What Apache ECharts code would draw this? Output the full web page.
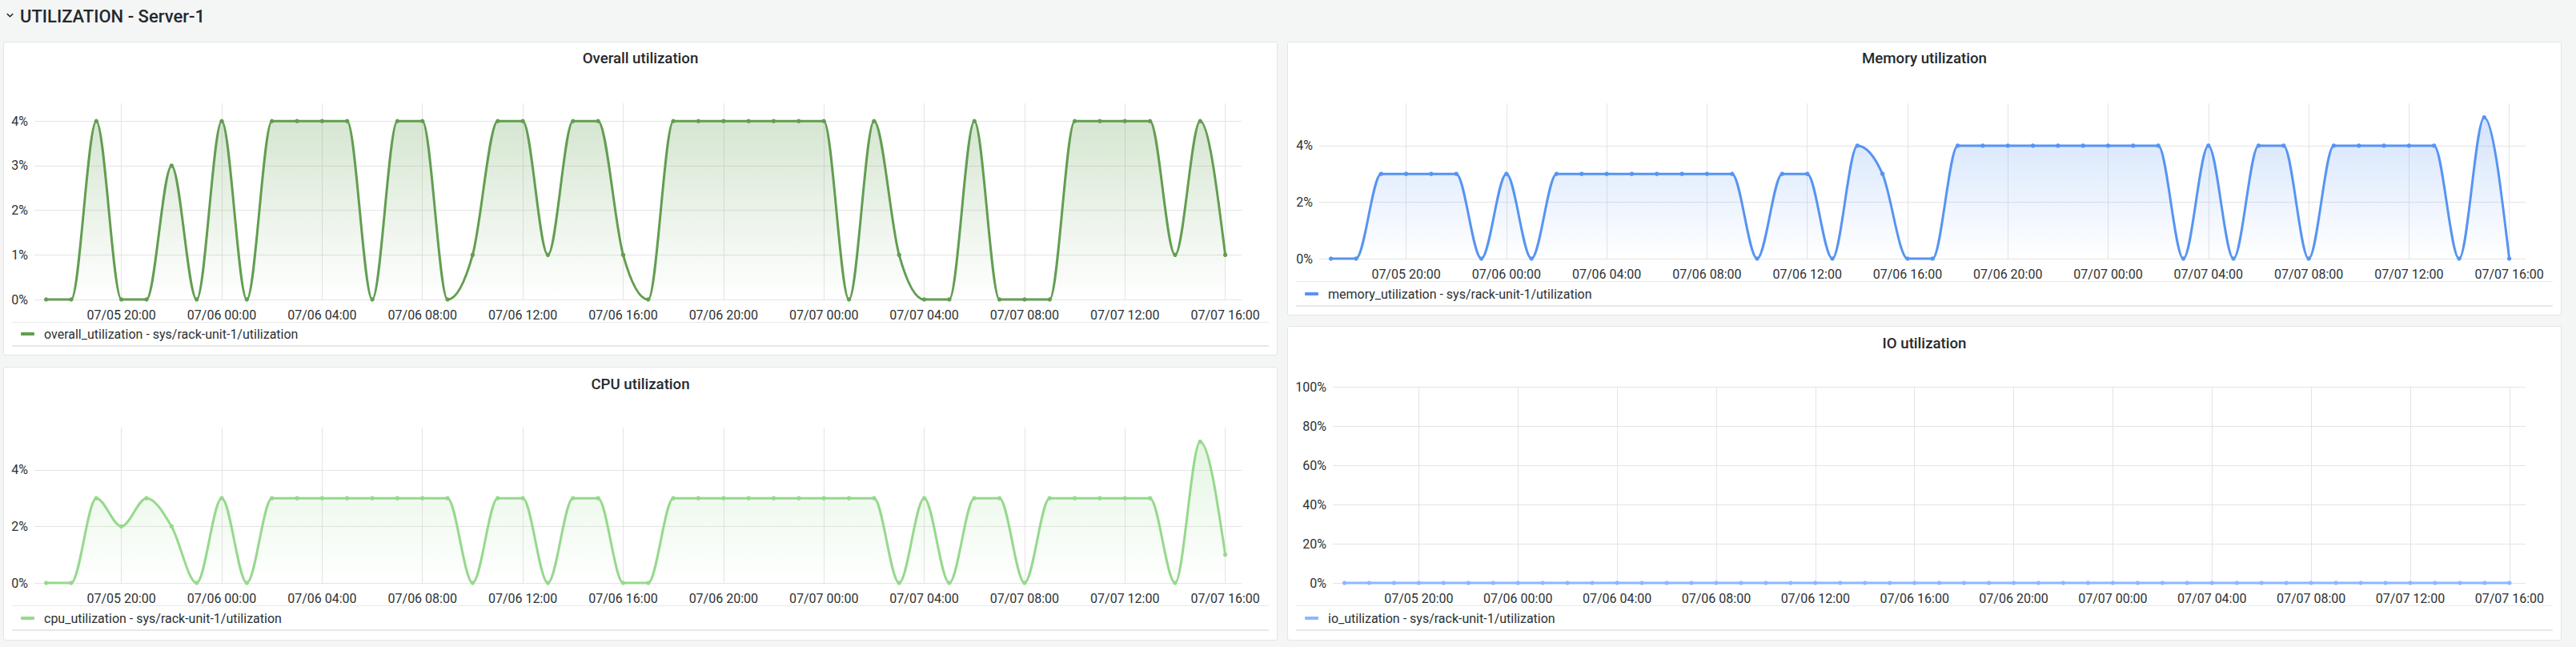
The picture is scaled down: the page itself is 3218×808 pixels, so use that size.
<!DOCTYPE html>
<html>
<head>
<meta charset="utf-8">
<script src="https://cdn.jsdelivr.net/npm/echarts@6/dist/echarts.min.js"></script>
<style>
html,body{margin:0;padding:0;background:#f4f5f5;width:3218px;height:808px;overflow:hidden;font-family:Roboto,Arial,sans-serif;}
.hdr{position:absolute;left:25px;top:7px;font-size:22px;font-weight:500;color:#24292e;line-height:28px;white-space:nowrap;}
.chev{position:absolute;left:8px;top:16px;}
.panel{position:absolute;background:#fff;border:1px solid #e3e5e6;border-radius:3px;box-sizing:border-box;}
.sep{position:absolute;background:#e6e8e8;}
#chart{position:absolute;left:0;top:0;width:3218px;height:808px;}
</style>
</head>
<body>
<svg class="chev" width="9" height="7" viewBox="0 0 9 7"><path d="M1.2 1.5 L4.5 4.8 L7.8 1.5" fill="none" stroke="#24292e" stroke-width="1.6" stroke-linecap="round" stroke-linejoin="round"/></svg>
<div class="hdr">UTILIZATION - Server-1</div>

<div class="panel" style="left:4px;top:52px;width:1592px;height:392px;"></div>
<div class="panel" style="left:1608px;top:52px;width:1592px;height:342px;"></div>
<div class="panel" style="left:4px;top:458px;width:1592px;height:342px;"></div>
<div class="panel" style="left:1608px;top:407px;width:1592px;height:393px;"></div>

<div class="sep" style="left:15px;top:402px;width:1570px;height:1px;"></div>
<div class="sep" style="left:15px;top:431px;width:1570px;height:2px;"></div>
<div class="sep" style="left:1619px;top:351px;width:1570px;height:1px;"></div>
<div class="sep" style="left:1619px;top:381px;width:1570px;height:2px;"></div>
<div class="sep" style="left:15px;top:756px;width:1570px;height:1px;"></div>
<div class="sep" style="left:15px;top:786px;width:1570px;height:2px;"></div>
<div class="sep" style="left:1619px;top:756px;width:1570px;height:1px;"></div>
<div class="sep" style="left:1619px;top:786px;width:1570px;height:2px;"></div>

<div id="chart"></div>
<script>
// ---- data ----
const times = [
  '2024-07-05 17:00','2024-07-05 18:00','2024-07-05 19:00','2024-07-05 20:00','2024-07-05 21:00','2024-07-05 22:00','2024-07-05 23:00',
  '2024-07-06 00:00','2024-07-06 01:00','2024-07-06 02:00','2024-07-06 03:00','2024-07-06 04:00','2024-07-06 05:00','2024-07-06 06:00','2024-07-06 07:00',
  '2024-07-06 08:00','2024-07-06 09:00','2024-07-06 10:00','2024-07-06 11:00','2024-07-06 12:00','2024-07-06 13:00','2024-07-06 14:00','2024-07-06 15:00',
  '2024-07-06 16:00','2024-07-06 17:00','2024-07-06 18:00','2024-07-06 19:00','2024-07-06 20:00','2024-07-06 21:00','2024-07-06 22:00','2024-07-06 23:00',
  '2024-07-07 00:00','2024-07-07 01:00','2024-07-07 02:00','2024-07-07 03:00','2024-07-07 04:00','2024-07-07 05:00','2024-07-07 06:00','2024-07-07 07:00',
  '2024-07-07 08:00','2024-07-07 09:00','2024-07-07 10:00','2024-07-07 11:00','2024-07-07 12:00','2024-07-07 13:00','2024-07-07 14:00','2024-07-07 15:00',
  '2024-07-07 16:00'
];
const overallValues = [0,0,4,0,0,3,0, 4,0,4,4,4,4,0,4,4,0,1,4,4,1,4,4,1,0,4,4,4,4,4,4, 4,0,4,1,0,0,4,0,0,0,4,4,4,4,1,4,1];
const cpuValues     = [0,0,3,2,3,2,0, 3,0,3,3,3,3,3,3,3,3,0,3,3,0,3,3,0,0,3,3,3,3,3,3, 3,3,3,0,3,0,3,3,0,3,3,3,3,3,0,5,1];
const memoryValues  = [0,0,3,3,3,3,0, 3,0,3,3,3,3,3,3,3,3,0,3,3,0,4,3,0,0,4,4,4,4,4,4, 4,4,4,0,4,0,4,4,0,4,4,4,4,4,0,5,0];
const ioValues      = [0,0,0,0,0,0,0, 0,0,0,0,0,0,0,0,0,0,0,0,0,0,0,0,0,0,0,0,0,0,0,0, 0,0,0,0,0,0,0,0,0,0,0,0,0,0,0,0,0];
const seriesNames = [
  'overall_utilization - sys/rack-unit-1/utilization',
  'memory_utilization - sys/rack-unit-1/utilization',
  'cpu_utilization - sys/rack-unit-1/utilization',
  'io_utilization - sys/rack-unit-1/utilization'
];
const panelTitles = ['Overall utilization','Memory utilization','CPU utilization','IO utilization'];
const xRange = ['2024-07-05 16:32','2024-07-07 16:39'];
const yMaxes = [4.4, 5.5, 5.5, 100];
const yIntervals = [1, 2, 2, 20];

// ---- helpers ----
function ts(s){
  const p = s.split(' '); const d = p[0].split('-').map(Number); const t = p[1].split(':').map(Number);
  return new Date(d[0], d[1]-1, d[2], t[0], t[1]).getTime();
}
function pad(n){ return (n<10?'0':'')+n; }
function xFmt(v){
  const d = new Date(v);
  if (d.getMinutes() !== 0 || d.getHours() % 4 !== 0) return '';
  return pad(d.getMonth()+1)+'/'+pad(d.getDate())+' '+pad(d.getHours())+':00';
}
function rgba(hex, a){
  const n = parseInt(hex.slice(1),16);
  return 'rgba('+((n>>16)&255)+','+((n>>8)&255)+','+(n&255)+','+a+')';
}
// monotone cubic (Steffen / d3 monotoneX) through pixel points
function sgn(x){ return x < 0 ? -1 : 1; }
function slope3(a,b,c){
  const h0 = b[0]-a[0], h1 = c[0]-b[0];
  const s0 = (b[1]-a[1])/h0, s1 = (c[1]-b[1])/h1;
  const p = (s0*h1 + s1*h0)/(h0+h1);
  return (sgn(s0)+sgn(s1)) * Math.min(Math.abs(s0), Math.abs(s1), 0.5*Math.abs(p)) || 0;
}
function monoPath(pts){
  const n = pts.length;
  if (n < 2) return 'M'+pts[0][0]+' '+pts[0][1];
  const t = new Array(n).fill(0);
  for (let i=1;i<n-1;i++) t[i] = slope3(pts[i-1],pts[i],pts[i+1]);
  const hA = pts[1][0]-pts[0][0];
  t[0] = n>2 ? (3*(pts[1][1]-pts[0][1])/hA - t[1])/2 : (pts[1][1]-pts[0][1])/hA;
  const hB = pts[n-1][0]-pts[n-2][0];
  t[n-1] = n>2 ? (3*(pts[n-1][1]-pts[n-2][1])/hB - t[n-2])/2 : t[0];
  let d = 'M'+pts[0][0].toFixed(2)+' '+pts[0][1].toFixed(2);
  for (let i=0;i<n-1;i++){
    const x0=pts[i][0], y0=pts[i][1], x1=pts[i+1][0], y1=pts[i+1][1];
    const dx=(x1-x0)/3;
    d += ' C'+(x0+dx).toFixed(2)+' '+(y0+dx*t[i]).toFixed(2)+' '+(x1-dx).toFixed(2)+' '+(y1-dx*t[i+1]).toFixed(2)+' '+x1.toFixed(2)+' '+y1.toFixed(2);
  }
  return d;
}

const FONT = 'Roboto, Arial, sans-serif';
const TXT = '#2c3235';
const GRIDC = '#e4e4e4';
const colors = ['#629e51','#5794f2','#96d98d','#8ab8ff'];
const valuesList = [overallValues, memoryValues, cpuValues, ioValues];

// layout: [left, top, width, height] of plot areas
const grids = [
  [43, 129, 1508, 245],
  [1648, 129, 1507, 194],
  [43, 534, 1508, 194],
  [1665, 483, 1490, 245]
];
const titlePos = [[800,73],[2404,73],[800,480],[2404,429]];
const legendPos = [[26,408],[1630,358],[26,763],[1630,763]];

function makeRender(vals, color){
  return function(params, api){
    const k = params.dataIndex;
    const c = api.coord([api.value(0), api.value(1)]);
    const children = [];
    if (k === 0){
      const pts = vals.map((v,j) => api.coord([ts(times[j]), v]));
      const base = api.coord([ts(times[0]), 0])[1];
      const line = monoPath(pts);
      const area = line + ' L'+pts[pts.length-1][0].toFixed(2)+' '+base.toFixed(2)+' L'+pts[0][0].toFixed(2)+' '+base.toFixed(2)+' Z';
      children.push({
        type:'path', shape:{pathData: area}, silent:true,
        style:{fill: new echarts.graphic.LinearGradient(0,0,0,1,[{offset:0,color:rgba(color,0.26)},{offset:1,color:rgba(color,0.0)}]), stroke:null}
      });
      children.push({
        type:'path', shape:{pathData: line}, silent:true,
        style:{fill:null, stroke:color, lineWidth:3, lineJoin:'round', lineCap:'round'}
      });
    }
    children.push({ type:'circle', shape:{cx:c[0], cy:c[1], r:2.7}, style:{fill:color}, z2: 10 });
    return { type:'group', children: children };
  };
}

const option = {
  animation: false,
  textStyle: { fontFamily: FONT },
  grid: grids.map(g => ({ left:g[0], top:g[1], width:g[2], height:g[3], containLabel:false, outerBoundsMode:'none' })),
  xAxis: grids.map((g,i) => ({
    type:'time', gridIndex:i, min: ts(xRange[0]), max: ts(xRange[1]),
    minInterval: 4*3600*1000, maxInterval: 4*3600*1000,
    axisLine:{show:false}, axisTick:{show:false},
    splitLine:{show:true, showMinLine:false, showMaxLine:false, lineStyle:{color:GRIDC, width:1}},
    axisLabel:{formatter:xFmt, color:TXT, fontSize:16, fontFamily:FONT, margin:11, hideOverlap:false}
  })),
  yAxis: grids.map((g,i) => ({
    type:'value', gridIndex:i, min:0, max:yMaxes[i], interval:yIntervals[i],
    axisLine:{show:false}, axisTick:{show:false},
    splitLine:{show:true, showMaxLine: i===3, lineStyle:{color:GRIDC, width:1}},
    axisLabel:{formatter:'{value}%', color:TXT, fontSize:16, fontFamily:FONT, margin:8, showMaxLabel: i===3 ? true : false}
  })),
  legend: legendPos.map((p,i) => ({
    data:[seriesNames[i]], left:p[0], top:p[1], padding:0, itemWidth:17, itemHeight:4, icon:'roundRect',
    selectedMode:false,
    textStyle:{color:TXT, fontSize:16, fontFamily:FONT, lineHeight:18, padding:[0,0,0,7]}
  })),
  graphic: titlePos.map((p,i) => ({
    type:'text', x:p[0], y:p[1], silent:true,
    style:{text:panelTitles[i], align:'center', verticalAlign:'middle', fontSize:18.67, fontWeight:500, fontFamily:FONT, fill:'#24292e'}
  })),
  series: valuesList.map((vals,i) => ({
    name: seriesNames[i], type:'custom', coordinateSystem:'cartesian2d', xAxisIndex:i, yAxisIndex:i,
    data: times.map((t,k) => [ts(t), vals[k]]),
    encode:{x:0, y:1},
    itemStyle:{color:colors[i]},
    clip:false,
    renderItem: makeRender(vals, colors[i])
  }))
};
const chart = echarts.init(document.getElementById('chart'), null, {renderer:'svg', width:3218, height:808});
chart.setOption(option);
</script>
</body>
</html>
